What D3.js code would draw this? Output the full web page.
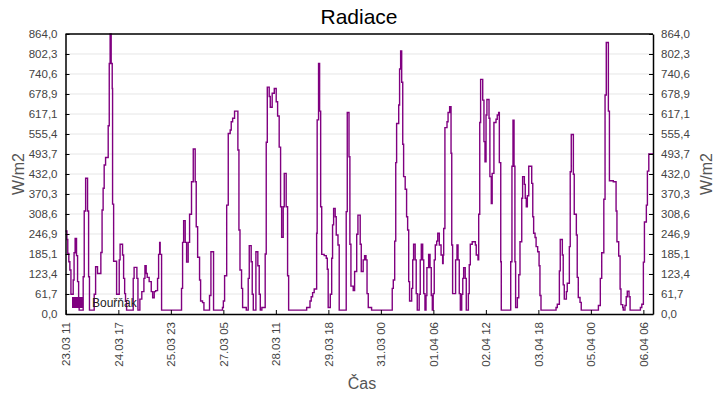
<!DOCTYPE html>
<html><head><meta charset="utf-8">
<script src="https://cdn.jsdelivr.net/npm/d3@7"></script>
<style>
body{margin:0;background:#fff;}
text{font-family:"Liberation Sans",Arial,sans-serif;}
</style></head>
<body><svg id="c" width="720" height="400"></svg>
<script>
// hours since 23.03 11:00
const hours = [-0.2,0.6,1.1,1.7,2.3,2.9,4.2,4.7,5.3,6.1,6.7,7.3,7.6,9.9,10.5,11.3,12.4,13.0,13.5,16.2,17.0,18.1,20.0,20.7,21.3,21.9,22.7,24.2,24.8,25.3,25.9,26.5,26.7,27.3,29.0,30.5,31.0,32.4,33.0,33.6,34.1,34.7,38.5,39.0,40.6,41.2,42.3,43.4,44.6,45.2,45.9,46.5,47.6,48.8,49.6,50.5,51.3,52.4,53.0,53.6,53.9,54.7,66.1,66.7,67.3,68.2,69.0,69.9,70.7,71.8,72.8,73.9,74.5,75.3,76.4,77.0,78.1,78.9,82.1,82.9,84.4,89.5,90.0,90.7,91.9,92.8,93.9,94.5,95.3,96.4,98.3,98.9,99.5,100.4,101.0,103.1,104.2,104.8,105.9,106.5,107.1,108.6,109.7,110.5,111.1,112.0,113.9,114.5,115.1,116.2,116.8,117.9,119.1,120.2,121.0,121.9,122.7,123.3,124.2,124.8,125.9,126.7,127.3,137.6,139.5,140.2,141.0,141.9,143.3,143.6,144.4,145.0,145.6,146.2,147.6,148.8,149.4,149.9,151.1,151.9,152.4,153.0,153.9,154.5,155.5,156.2,160.2,160.8,161.8,162.3,162.9,164.2,165.0,166.2,166.9,168.2,168.8,169.9,170.7,171.5,172.1,172.8,174.7,186.5,187.1,187.9,188.5,189.0,190.2,190.7,191.3,191.9,192.5,193.0,193.9,194.7,195.3,195.9,196.4,197.6,198.2,198.7,199.6,200.2,200.8,201.9,202.5,203.1,203.9,204.5,205.2,205.8,206.3,207.3,208.1,208.8,209.4,209.9,210.5,211.1,211.9,212.5,213.4,214.4,215.3,215.6,215.9,216.6,217.8,218.4,219.3,220.1,220.5,221.0,222.7,223.5,224.1,224.8,225.4,226.2,226.8,227.3,228.2,228.8,230.0,230.5,231.1,232.2,234.0,234.5,235.5,235.9,236.5,237.0,238.2,238.9,239.5,240.1,240.6,241.8,242.3,243.1,243.6,244.6,245.8,246.5,247.3,247.7,248.5,248.8,254.2,254.9,255.5,256.1,256.6,257.0,258.0,258.8,259.5,260.5,261.0,262.0,262.5,263.1,263.7,264.5,266.2,266.8,267.3,268.1,268.7,269.6,270.4,270.9,271.5,280.1,280.8,282.0,282.5,283.7,284.2,284.8,286.0,286.5,287.7,288.2,288.8,290.0,290.5,291.7,292.2,292.8,293.8,294.5,304.3,305.4,306.2,307.4,308.1,308.8,310.0,310.6,312.8,314.4,314.9,315.9,316.7,317.2,318.2,318.5,319.5,320.2,320.8,321.8,322.4,328.3,329.1,330.0,330.6,331.7,332.3,333.1,335.5];
const radiace = [256,230,187,161,136,61,105,189,233,180,100,38,12,115,318,419,318,115,12,61,146,125,190,321,388,460,483,581,773,864,773,696,339,163,61,167,215,182,110,63,40,12,110,144,110,12,46,69,110,149,125,113,100,69,50,69,72,110,184,221,184,12,79,221,288,221,160,221,308,408,509,408,269,175,105,40,35,12,57,192,12,20,40,118,336,557,568,593,604,626,506,259,136,79,20,12,110,211,161,61,12,192,149,61,12,20,185,530,700,671,638,681,696,655,611,515,331,237,331,434,331,118,12,20,40,53,66,77,249,599,773,626,331,184,180,172,138,20,61,172,275,326,300,244,213,12,316,622,485,215,86,72,131,246,305,215,131,167,180,167,63,20,12,79,105,225,467,588,645,756,812,715,524,424,385,300,259,100,40,79,167,215,167,63,12,61,167,215,167,63,12,57,143,184,143,57,12,63,167,213,225,249,213,182,156,182,264,575,593,622,640,496,213,63,167,213,167,63,12,61,110,143,110,12,63,152,215,223,213,182,167,308,591,724,660,532,470,614,662,604,424,341,434,591,601,614,622,467,161,12,161,456,598,456,161,20,50,121,223,357,424,400,357,331,365,456,403,300,249,236,208,192,149,57,12,20,30,133,230,182,90,46,69,95,208,439,554,431,308,244,113,51,36,12,26,110,189,354,676,838,626,411,408,318,223,179,77,29,20,12,26,53,70,53,12,20,30,160,284,336,441,494,494];
const xTickHours = [0,30,60,90,120,150,180,210,240,270,300,330];
const xTickLabels = ["23.03 11","24.03 17","25.03 23","27.03 05","28.03 11","29.03 18","31.03 00","01.04 06","02.04 12","03.04 18","05.04 00","06.04 06"];
const yTickLabels = ["0,0","61,7","123,4","185,1","246,9","308,6","370,3","432,0","493,7","555,4","617,1","678,9","740,6","802,3","864,0"];
const seriesName = "Bouřňák";
const title = "Radiace";

const svg = d3.select("#c");
const L = 65.5, R = 653, T = 34, B = 314;
const x = d3.scaleLinear().domain([-0.2, 335.5]).range([L, R]);
const y = d3.scaleLinear().domain([0, 864]).range([B, T]);
const yTicks = yTickLabels.map(s => +s.replace(",", "."));
const yT = yTicks.map((v,i)=> i===yTicks.length-1 ? 864 : v);

// grid
svg.append("g").selectAll("line").data(yT.slice(1)).join("line")
  .attr("x1", L).attr("x2", R).attr("y1", d=>y(d)).attr("y2", d=>y(d))
  .attr("stroke", "#e6e6e6").attr("stroke-width", 1);

// line
const data = hours.map((h,i)=>({h, v: radiace[i]}));
svg.append("path").datum(data)
  .attr("fill","none").attr("stroke","#800080").attr("stroke-width",1.4)
  .attr("d", d3.line().x(d=>x(d.h)).y(d=>y(d.v)).curve(d3.curveStepAfter));

// axes
const fmtY = (d,i) => yTickLabels[i];
const axL = d3.axisLeft(y).tickValues(yT).tickFormat(fmtY).tickSizeInner(-4).tickSizeOuter(0).tickPadding(8);
const axR = d3.axisRight(y).tickValues(yT).tickFormat(fmtY).tickSizeInner(-4).tickSizeOuter(0).tickPadding(8);
const axB = d3.axisBottom(x).tickValues(xTickHours).tickFormat((d,i)=>xTickLabels[i]).tickSizeInner(-4).tickSizeOuter(0);

function style(g){
  g.selectAll(".domain").attr("stroke","#000").attr("stroke-width",1.5);
  g.selectAll(".tick line").attr("stroke","#000");
  g.selectAll(".tick text").attr("fill","#444").attr("font-size",11.5).attr("font-family","'Liberation Sans',Arial,sans-serif");
}
svg.append("g").attr("transform",`translate(${L},0)`).call(axL).call(style);
svg.append("g").attr("transform",`translate(${R},0)`).call(axR).call(style);
const gb = svg.append("g").attr("transform",`translate(0,${B})`).call(axB).call(style);
gb.selectAll(".tick text").attr("text-anchor","end").attr("dy","0.35em")
  .attr("transform","translate(0,8) rotate(-90)").attr("x",0).attr("y",0);
// top border
svg.append("line").attr("x1",L).attr("x2",R).attr("y1",T).attr("y2",T).attr("stroke","#000").attr("stroke-width",1.5);

// titles
svg.append("text").attr("x",359).attr("y",24).attr("text-anchor","middle").attr("font-size",21).attr("fill","#000").text(title);
svg.append("text").attr("transform","translate(24,174) rotate(-90)").attr("text-anchor","middle").attr("font-size",16).attr("fill","#555").text("W/m2");
svg.append("text").attr("transform","translate(712,174) rotate(-90)").attr("text-anchor","middle").attr("font-size",16).attr("fill","#555").text("W/m2");
svg.append("text").attr("x",362).attr("y",389).attr("text-anchor","middle").attr("font-size",16).attr("fill","#555").text("Čas");

// legend
svg.append("rect").attr("x",72).attr("y",297).attr("width",11).attr("height",11).attr("fill","#800080");
svg.append("text").attr("x",92).attr("y",307).attr("font-size",12).attr("fill","#222").text(seriesName);
</script></body></html>
